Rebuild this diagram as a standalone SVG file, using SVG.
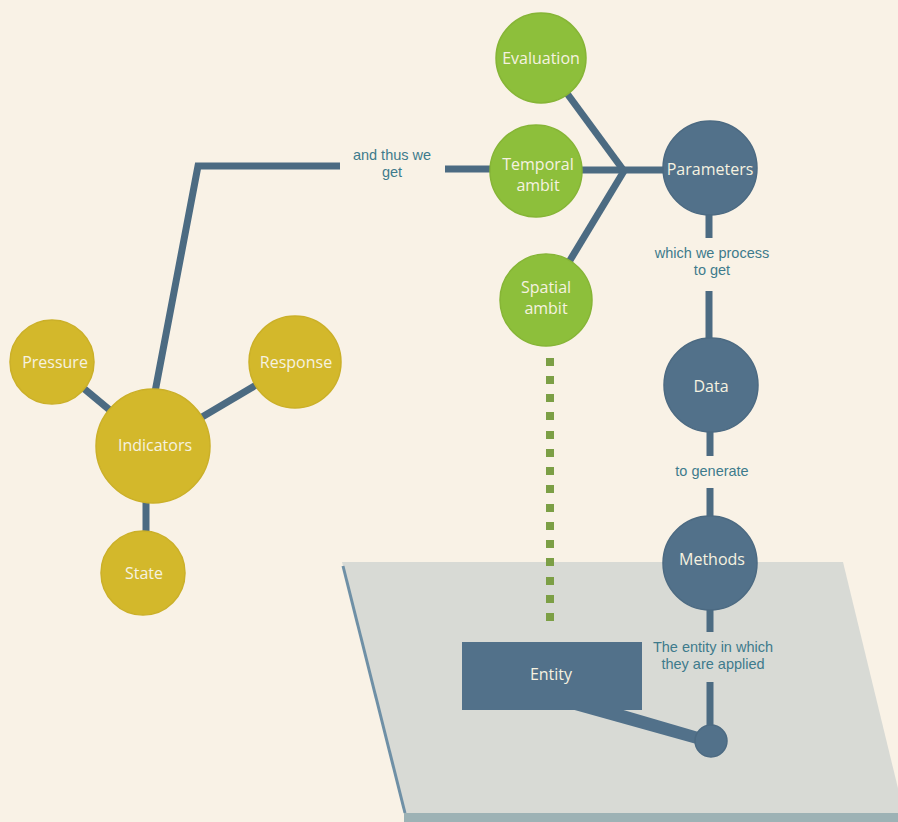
<svg xmlns="http://www.w3.org/2000/svg" width="898" height="822" viewBox="0 0 898 822">
  <defs>
    <style>
      .bg { fill: #f9f2e6; }
      .ln { stroke: #4c6b82; stroke-width: 7; fill: none; stroke-linecap: butt; }
      .green { fill: #8dbf3b; stroke: #86b536; stroke-width: 1.5; }
      .yellow { fill: #d3b82b; stroke: #cbb028; stroke-width: 1.5; }
      .slate { fill: #52718a; stroke: #4c6a82; stroke-width: 1.5; }
      .nt { font-family: "Open Sans", "Noto Sans", "Liberation Sans", sans-serif; font-size: 16px; fill: #f6f2e0; text-anchor: middle; }
      .lb { font-family: "Liberation Sans", Arial, sans-serif; font-size: 14.5px; fill: #3e7b8c; text-anchor: middle; }
      .dot { fill: #7c9f45; }
    </style>
  </defs>

  <rect class="bg" x="0" y="0" width="898" height="822"/>

  <!-- plane -->
  <g id="plane">
    <polygon points="342,562 843,562 904,813 404,813" fill="#d8dad5"/>
    <line x1="343" y1="566" x2="405" y2="813" stroke="#6f90a6" stroke-width="3"/>
    <rect x="404" y="813" width="494" height="9" fill="#9db2b5"/>
  </g>

  <!-- connectors -->
  <g id="connectors">
    <line class="ln" x1="52" y1="362" x2="153" y2="446"/>
    <line class="ln" x1="295" y1="362" x2="153" y2="446"/>
    <line class="ln" x1="146" y1="446" x2="146" y2="573"/>
    <polyline class="ln" points="155,392 198,166 340,166" stroke-linejoin="miter"/>
    <line class="ln" x1="445" y1="169" x2="495" y2="169"/>
    <line class="ln" x1="541" y1="58" x2="624" y2="171"/>
    <line class="ln" x1="536" y1="170" x2="710" y2="170"/>
    <line class="ln" x1="546" y1="300" x2="624" y2="171"/>
    <line class="ln" x1="709" y1="200" x2="709" y2="238"/>
    <line class="ln" x1="709" y1="291" x2="709" y2="360"/>
    <line class="ln" x1="710" y1="410" x2="710" y2="456"/>
    <line class="ln" x1="710" y1="488" x2="710" y2="540"/>
    <line class="ln" x1="710" y1="590" x2="710" y2="632"/>
    <line class="ln" x1="710" y1="682" x2="710" y2="735"/>
    <polygon points="571,709 620,709 702,733 700,745" fill="#52718a"/>
    <g id="dotted">
      <rect class="dot" x="546" y="358" width="8" height="8"/>
      <rect class="dot" x="546" y="376" width="8" height="8"/>
      <rect class="dot" x="546" y="394" width="8" height="8"/>
      <rect class="dot" x="546" y="412" width="8" height="8"/>
      <rect class="dot" x="546" y="431" width="8" height="8"/>
      <rect class="dot" x="546" y="449" width="8" height="8"/>
      <rect class="dot" x="546" y="467" width="8" height="8"/>
      <rect class="dot" x="546" y="485" width="8" height="8"/>
      <rect class="dot" x="546" y="504" width="8" height="8"/>
      <rect class="dot" x="546" y="522" width="8" height="8"/>
      <rect class="dot" x="546" y="540" width="8" height="8"/>
      <rect class="dot" x="546" y="558" width="8" height="8"/>
      <rect class="dot" x="546" y="577" width="8" height="8"/>
      <rect class="dot" x="546" y="595" width="8" height="8"/>
      <rect class="dot" x="546" y="613" width="8" height="8"/>
    </g>
  </g>

  <!-- labels on connectors -->
  <g id="labels">
    <text class="lb" x="392" y="160">and thus we</text>
    <text class="lb" x="392" y="177">get</text>
    <text class="lb" x="712" y="258">which we process</text>
    <text class="lb" x="712" y="275">to get</text>
    <text class="lb" x="712" y="476">to generate</text>
    <text class="lb" x="713" y="652">The entity in which</text>
    <text class="lb" x="713" y="669">they are applied</text>
  </g>

  <g id="pressure"><circle class="yellow" cx="52" cy="362" r="42"/><text class="nt" x="55" y="368">Pressure</text></g>
  <g id="response"><circle class="yellow" cx="295" cy="362" r="46"/><text class="nt" x="296" y="368">Response</text></g>
  <g id="indicators"><circle class="yellow" cx="153" cy="446" r="57"/><text class="nt" x="155" y="451">Indicators</text></g>
  <g id="state"><circle class="yellow" cx="143" cy="573" r="42"/><text class="nt" x="144" y="579">State</text></g>

  <g id="evaluation"><circle class="green" cx="541" cy="58" r="45"/><text class="nt" x="541" y="64">Evaluation</text></g>
  <g id="temporal"><circle class="green" cx="536" cy="171" r="46"/><text class="nt" x="538" y="170">Temporal</text><text class="nt" x="538" y="191">ambit</text></g>
  <g id="spatial"><circle class="green" cx="546" cy="300" r="46"/><text class="nt" x="546" y="293">Spatial</text><text class="nt" x="546" y="314">ambit</text></g>

  <g id="parameters"><circle class="slate" cx="710" cy="168" r="47"/><text class="nt" x="710" y="175">Parameters</text></g>
  <g id="data"><circle class="slate" cx="711" cy="385" r="47"/><text class="nt" x="711" y="392">Data</text></g>
  <g id="methods"><circle class="slate" cx="710" cy="563" r="47"/><text class="nt" x="712" y="565">Methods</text></g>

  <g id="entity"><rect x="462" y="642" width="180" height="68" fill="#52718a"/><text class="nt" x="551" y="680">Entity</text></g>
  <g id="entity-point"><circle class="slate" cx="711" cy="741" r="16"/></g>
</svg>
